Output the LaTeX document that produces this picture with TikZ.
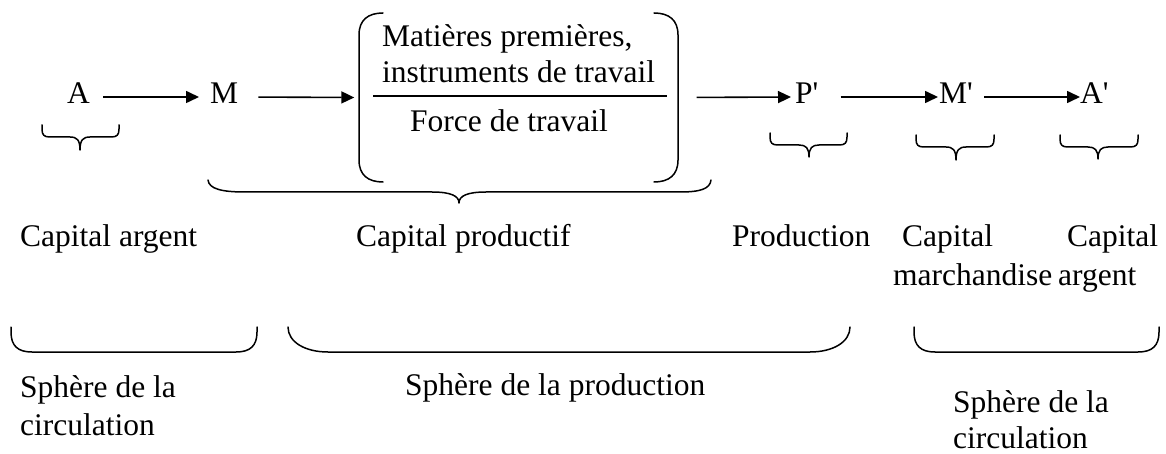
\documentclass[tikz,border=0pt]{standalone}
\usepackage{fontspec}
\newfontfamily\tnrfont{Liberation Serif}
\usetikzlibrary{arrows.meta}
\newcommand{\diagfont}{\tnrfont\fontsize{31.5}{38}\selectfont}
\tikzset{
  txt/.style={font=\diagfont, inner sep=0pt, anchor=base west},
  letter/.style={txt, text height=14pt, text depth=0pt},
  flow/.style={line width=1.6pt, -{Triangle[length=13pt,width=12pt]}},
  brace/.style={line width=1.5pt, line cap=round, line join=round},
}
\begin{document}
\begin{tikzpicture}[x=1pt, y=-1pt]
\useasboundingbox (0,0) rectangle (1166,454);

% circuit letters
\node[letter] (A)  at (67,104)   {A};
\node[letter] (M)  at (210,104)  {M};
\node[letter] (P2) at (795,104)  {P'};
\node[letter] (M2) at (939,104)  {M'};
\node[letter] (A2) at (1080,104) {A'};

% bracketed group of production factors
\node[inner sep=0pt, minimum width=320pt, minimum height=169pt] (bk) at (518.5,97.5) {};
\draw[brace] (383,13) .. controls (368,13) and (359,20) .. (359,35) -- (359,160)
  .. controls (359,175) and (368,182) .. (383,182);
\draw[brace] (654,13) .. controls (669,13) and (678,20) .. (678,35) -- (678,160)
  .. controls (678,175) and (669,182) .. (654,182);
\node[txt] (mp) at (382,47)  {Matières premières,};
\node[txt] (it) at (382,83)  {instruments de travail};
\draw[line width=1.5pt] (373,96) -- (667,96);
\node[txt] (ft) at (410,132) {Force de travail};

% flow arrows
\draw[flow, shorten <=13pt, shorten >=11pt] (A.east)  -- (M.west);
\draw[flow, shorten <=20pt, shorten >=4pt]  (M.east)  -- (bk.west);
\draw[flow, shorten <=18pt, shorten >=4pt]  (bk.east) -- (P2.west);
\draw[flow, shorten <=22pt, shorten >=1pt]  (P2.east) -- (M2.west);
\draw[flow, shorten <=11pt, shorten >=0pt]  (M2.east) -- (A2.west);

% small braces under the letters
\draw[brace] (42,125) -- (42,129) .. controls (42,135) and (44,137) .. (50,137) -- (70,137)
  .. controls (77,137) and (80,140) .. (80,150)
  .. controls (80,140) and (83,137) .. (90,137) -- (111,137)
  .. controls (117,137) and (119,135) .. (119,129) -- (119,125);
\draw[brace] (770,133) -- (770,137) .. controls (770,143) and (772,145) .. (778,145) -- (799,145)
  .. controls (806,145) and (809,148) .. (809,157)
  .. controls (809,148) and (812,145) .. (819,145) -- (839,145)
  .. controls (845,145) and (847,143) .. (847,137) -- (847,133);
\draw[brace] (916,135) -- (916,139) .. controls (916,145) and (918,147) .. (924,147) -- (946,147)
  .. controls (953,147) and (956,150) .. (956,160)
  .. controls (956,150) and (959,147) .. (966,147) -- (986,147)
  .. controls (992,147) and (994,145) .. (994,139) -- (994,135);
\draw[brace] (1060,135) -- (1060,139) .. controls (1060,145) and (1062,147) .. (1068,147) -- (1088,147)
  .. controls (1095,147) and (1098,150) .. (1098,159)
  .. controls (1098,150) and (1101,147) .. (1108,147) -- (1130,147)
  .. controls (1136,147) and (1138,145) .. (1138,139) -- (1138,135);

% large brace under M and the bracket
\draw[brace] (208,180) .. controls (209,189) and (222,192) .. (245,192) -- (432,192)
  .. controls (451,192) and (459,196) .. (459,203)
  .. controls (459,196) and (467,192) .. (486,192) -- (680,192)
  .. controls (700,192) and (710,189) .. (711,180);

% names of the capital forms
\node[txt] (ca)  at (20,247)   {Capital argent};
\node[txt] (cp)  at (356,247)  {Capital productif};
\node[txt] (pr)  at (732,247)  {Production};
\node[txt] (cm1) at (902,247)  {Capital};
\node[txt] (cm2) at (893,285)  {marchandise};
\node[txt] (cb1) at (1067,247) {Capital};
\node[txt] (cb2) at (1058,285) {argent};

% braces of the spheres
\draw[brace] (11,327) -- (11,332) .. controls (11,346) and (18,352) .. (32,352) -- (236,352)
  .. controls (250,352) and (257,346) .. (257,332) -- (257,327);
\draw[brace] (288,327) .. controls (288,342) and (305,352) .. (328,352) -- (810,352)
  .. controls (833,352) and (850,342) .. (850,327);
\draw[brace] (914,327) -- (914,332) .. controls (914,346) and (921,352) .. (935,352) -- (1138,352)
  .. controls (1152,352) and (1159,346) .. (1159,332) -- (1159,327);

% spheres
\node[txt] (s1a) at (20,397)  {Sphère de la};
\node[txt] (s1b) at (20,435)  {circulation};
\node[txt] (s2)  at (405,395) {Sphère de la production};
\node[txt] (s3a) at (953,412) {Sphère de la};
\node[txt] (s3b) at (953,448) {circulation};
\end{tikzpicture}
\end{document}
